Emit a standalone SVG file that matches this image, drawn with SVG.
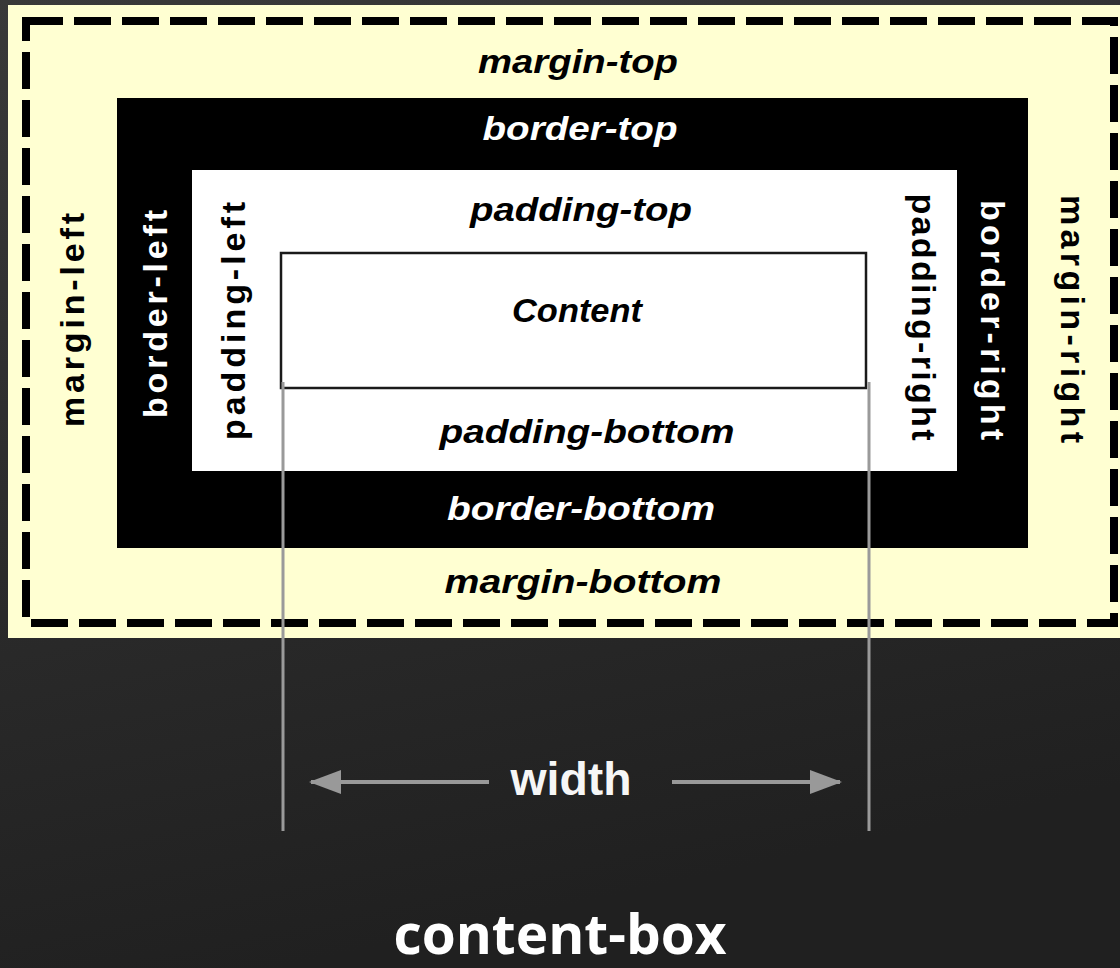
<svg xmlns="http://www.w3.org/2000/svg" width="1120" height="968" viewBox="0 0 1120 968">
  <defs>
    <linearGradient id="bg" x1="0" y1="0" x2="0.25" y2="1">
      <stop offset="0" stop-color="#393939"/>
      <stop offset="1" stop-color="#202020"/>
    </linearGradient>
    <marker id="arrow" viewBox="0 0 32 24" refX="30" refY="12" markerWidth="32" markerHeight="24" markerUnits="userSpaceOnUse" orient="auto">
      <path d="M0,0 L32,12 L0,24 z" fill="#999999"/>
    </marker>
  </defs>
  <style>
    .hl { font-family: "Liberation Sans", Arial, sans-serif; font-weight: bold; font-style: italic; font-size: 33px; text-anchor: middle; }
    .vl { font-family: "Liberation Sans", Arial, sans-serif; font-weight: bold; font-size: 34px; text-anchor: middle; }
    .dark { fill: #000000; }
    .light { fill: #ffffff; }
    .guide { stroke: #9a9a9a; stroke-width: 3; fill: none; }
    .dim { stroke: #999999; stroke-width: 4; fill: none; }
  </style>
  <rect x="0" y="0" width="1120" height="968" fill="url(#bg)"/>

  <g id="margin-box">
    <rect x="8" y="5" width="1112" height="633" fill="#ffffd2"/>
    <rect x="26" y="21" width="1088" height="602" fill="none" stroke="#000" stroke-width="8" stroke-dasharray="37 11"/>
    <text class="hl dark" x="578" y="73" textLength="200" lengthAdjust="spacingAndGlyphs">margin-top</text>
    <text class="hl dark" x="583" y="593" textLength="277" lengthAdjust="spacingAndGlyphs">margin-bottom</text>
    <text class="vl dark" transform="translate(84,320) rotate(-90)" x="0" y="0" textLength="214" lengthAdjust="spacing">margin-left</text>
    <text class="vl dark" transform="translate(1061,319) rotate(90)" x="0" y="0" textLength="248" lengthAdjust="spacing">margin-right</text>
  </g>

  <g id="border-box">
    <rect x="117" y="98" width="911" height="450" fill="#000"/>
    <text class="hl light" x="580" y="140" textLength="195" lengthAdjust="spacingAndGlyphs">border-top</text>
    <text class="hl light" x="581" y="520" textLength="268" lengthAdjust="spacingAndGlyphs">border-bottom</text>
    <text class="vl light" transform="translate(167,314) rotate(-90)" x="0" y="0" textLength="208" lengthAdjust="spacing">border-left</text>
    <text class="vl light" transform="translate(981,320) rotate(90)" x="0" y="0" textLength="240" lengthAdjust="spacing">border-right</text>
  </g>

  <g id="padding-box">
    <rect x="192" y="170" width="765" height="301" fill="#fff"/>
    <text class="hl dark" x="581" y="221" textLength="222" lengthAdjust="spacingAndGlyphs">padding-top</text>
    <text class="hl dark" x="587" y="443" textLength="295" lengthAdjust="spacingAndGlyphs">padding-bottom</text>
    <text class="vl dark" transform="translate(245,321) rotate(-90)" x="0" y="0" textLength="238" lengthAdjust="spacing">padding-left</text>
    <text class="vl dark" transform="translate(912,317) rotate(90)" x="0" y="0" textLength="247" lengthAdjust="spacing">padding-right</text>
  </g>

  <g id="content-box-node">
    <rect x="281" y="253" width="585" height="135" fill="#fff" stroke="#1a1a1a" stroke-width="2.5"/>
    <text class="hl dark" x="577" y="322" textLength="130" lengthAdjust="spacingAndGlyphs">Content</text>
  </g>

  <g id="connectors">
    <line class="guide" x1="283" y1="382" x2="283" y2="831"/>
    <line class="guide" x1="869" y1="382" x2="869" y2="831"/>
    <line class="dim" x1="489" y1="782" x2="311" y2="782" marker-end="url(#arrow)"/>
    <line class="dim" x1="672" y1="782" x2="840" y2="782" marker-end="url(#arrow)"/>
  </g>

  <g id="width-label">
    <text x="571" y="795" font-family="'Liberation Sans', Arial, sans-serif" font-weight="bold" font-size="46" fill="#f6f6f6" text-anchor="middle" textLength="121" lengthAdjust="spacingAndGlyphs">width</text>
  </g>

  <g id="title">
    <text x="560" y="954" font-family="'Open Sans', 'Noto Sans', sans-serif" font-weight="700" font-size="55" fill="#ffffff" text-anchor="middle">content-box</text>
  </g>
</svg>
